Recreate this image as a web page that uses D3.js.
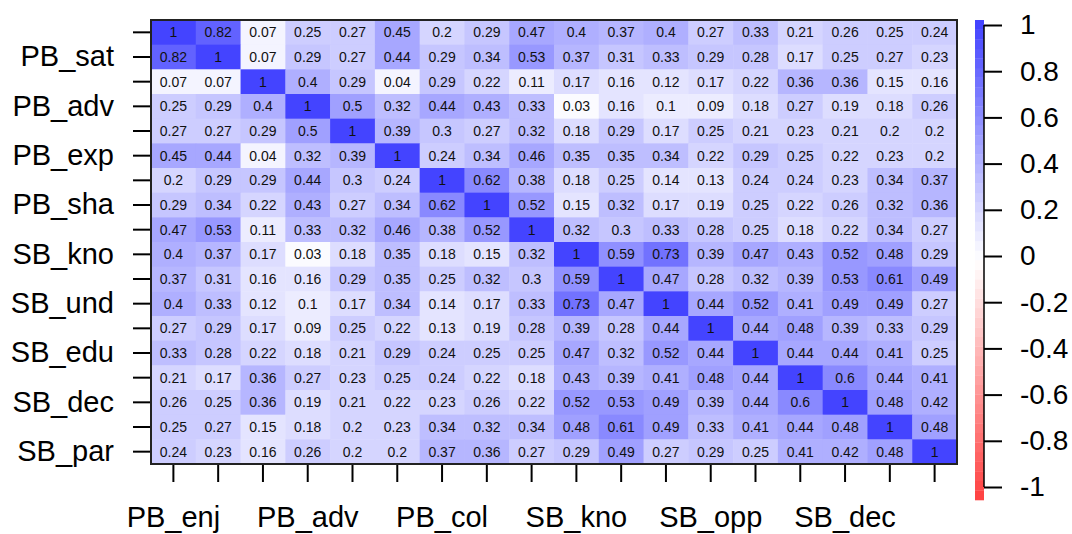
<!DOCTYPE html>
<html>
<head>
<meta charset="utf-8">
<script src="https://cdn.jsdelivr.net/npm/d3@7"></script>
<style>
  body { margin: 0; background: #fff; }
  svg { font-family: "Liberation Sans", Arial, sans-serif; }
</style>
</head>
<body>
<svg id="chart" width="1072" height="534"></svg>
<script>
// variables (only some of the names fit on the axes)
var vars = ["PB_enj", "PB_sat", "PB_rec", "PB_adv", "PB_net", "PB_exp", "PB_col", "PB_sha", "PB_sup",
            "SB_kno", "SB_ski", "SB_und", "SB_opp", "SB_edu", "SB_inf", "SB_dec", "SB_rel", "SB_par"];
var xLabelsShown = ["PB_enj", "PB_adv", "PB_col", "SB_kno", "SB_opp", "SB_dec"];
var yLabelsShown = ["PB_sat", "PB_adv", "PB_exp", "PB_sha", "SB_kno", "SB_und", "SB_edu", "SB_dec", "SB_par"];
var legendTicks = [1, 0.8, 0.6, 0.4, 0.2, 0, -0.2, -0.4, -0.6, -0.8, -1];

var r01 = [1, 0.82, 0.07, 0.25, 0.27, 0.45, 0.2, 0.29, 0.47, 0.4, 0.37, 0.4, 0.27, 0.33, 0.21, 0.26, 0.25, 0.24];
var r02 = [0.82, 1, 0.07, 0.29, 0.27, 0.44, 0.29, 0.34, 0.53, 0.37, 0.31, 0.33, 0.29, 0.28, 0.17, 0.25, 0.27, 0.23];
var r03 = [0.07, 0.07, 1, 0.4, 0.29, 0.04, 0.29, 0.22, 0.11, 0.17, 0.16, 0.12, 0.17, 0.22, 0.36, 0.36, 0.15, 0.16];
var r04 = [0.25, 0.29, 0.4, 1, 0.5, 0.32, 0.44, 0.43, 0.33, 0.03, 0.16, 0.1, 0.09, 0.18, 0.27, 0.19, 0.18, 0.26];
var r05 = [0.27, 0.27, 0.29, 0.5, 1, 0.39, 0.3, 0.27, 0.32, 0.18, 0.29, 0.17, 0.25, 0.21, 0.23, 0.21, 0.2, 0.2];
var r06 = [0.45, 0.44, 0.04, 0.32, 0.39, 1, 0.24, 0.34, 0.46, 0.35, 0.35, 0.34, 0.22, 0.29, 0.25, 0.22, 0.23, 0.2];
var r07 = [0.2, 0.29, 0.29, 0.44, 0.3, 0.24, 1, 0.62, 0.38, 0.18, 0.25, 0.14, 0.13, 0.24, 0.24, 0.23, 0.34, 0.37];
var r08 = [0.29, 0.34, 0.22, 0.43, 0.27, 0.34, 0.62, 1, 0.52, 0.15, 0.32, 0.17, 0.19, 0.25, 0.22, 0.26, 0.32, 0.36];
var r09 = [0.47, 0.53, 0.11, 0.33, 0.32, 0.46, 0.38, 0.52, 1, 0.32, 0.3, 0.33, 0.28, 0.25, 0.18, 0.22, 0.34, 0.27];
var r10 = [0.4, 0.37, 0.17, 0.03, 0.18, 0.35, 0.18, 0.15, 0.32, 1, 0.59, 0.73, 0.39, 0.47, 0.43, 0.52, 0.48, 0.29];
var r11 = [0.37, 0.31, 0.16, 0.16, 0.29, 0.35, 0.25, 0.32, 0.3, 0.59, 1, 0.47, 0.28, 0.32, 0.39, 0.53, 0.61, 0.49];
var r12 = [0.4, 0.33, 0.12, 0.1, 0.17, 0.34, 0.14, 0.17, 0.33, 0.73, 0.47, 1, 0.44, 0.52, 0.41, 0.49, 0.49, 0.27];
var r13 = [0.27, 0.29, 0.17, 0.09, 0.25, 0.22, 0.13, 0.19, 0.28, 0.39, 0.28, 0.44, 1, 0.44, 0.48, 0.39, 0.33, 0.29];
var r14 = [0.33, 0.28, 0.22, 0.18, 0.21, 0.29, 0.24, 0.25, 0.25, 0.47, 0.32, 0.52, 0.44, 1, 0.44, 0.44, 0.41, 0.25];
var r15 = [0.21, 0.17, 0.36, 0.27, 0.23, 0.25, 0.24, 0.22, 0.18, 0.43, 0.39, 0.41, 0.48, 0.44, 1, 0.6, 0.44, 0.41];
var r16 = [0.26, 0.25, 0.36, 0.19, 0.21, 0.22, 0.23, 0.26, 0.22, 0.52, 0.53, 0.49, 0.39, 0.44, 0.6, 1, 0.48, 0.42];
var r17 = [0.25, 0.27, 0.15, 0.18, 0.2, 0.23, 0.34, 0.32, 0.34, 0.48, 0.61, 0.49, 0.33, 0.41, 0.44, 0.48, 1, 0.48];
var r18 = [0.24, 0.23, 0.16, 0.26, 0.2, 0.2, 0.37, 0.36, 0.27, 0.29, 0.49, 0.27, 0.29, 0.25, 0.41, 0.42, 0.48, 1];

var rows = [r01, r02, r03, r04, r05, r06, r07, r08, r09, r10, r11, r12, r13, r14, r15, r16, r17, r18];

function renderMyChart() {
    var svg = d3.select("#chart"),
        margin = { top: 20, right: 115, bottom: 70, left: 151 },
        width = +svg.attr("width") - margin.left - margin.right,
        height = +svg.attr("height") - margin.top - margin.bottom;

    var x = d3.scaleBand().domain(vars).range([0, width]),
        y = d3.scaleBand().domain(vars).range([0, height]);

    // binned red - white - blue ramp like R's colorRampPalette
    var nBins = 50;
    var ramp = d3.scaleLinear().domain([-1, 0, 1])
        .range(["rgb(255,64,64)", "#ffffff", "rgb(64,64,255)"]);
    function color(v) {
        var b = Math.min(nBins - 1, Math.floor((v + 1) / 2 * nBins));
        return ramp(-1 + (b + 0.5) * 2 / nBins);
    }

    var cells = [];
    rows.forEach(function (r, i) {
        r.forEach(function (v, j) {
            cells.push({ row: vars[i], col: vars[j], value: v });
        });
    });

    var g = svg.append("g")
        .attr("transform", "translate(" + margin.left + "," + margin.top + ")");

    g.selectAll(".cell")
        .data(cells)
        .enter().append("rect")
        .attr("class", "cell")
        .attr("x", function (d) { return x(d.col); })
        .attr("y", function (d) { return y(d.row); })
        .attr("width", x.bandwidth() + 0.5)
        .attr("height", y.bandwidth() + 0.5)
        .attr("fill", function (d) { return color(d.value); });

    g.selectAll(".val")
        .data(cells)
        .enter().append("text")
        .attr("class", "val")
        .attr("x", function (d) { return x(d.col) + x.bandwidth() / 2; })
        .attr("y", function (d) { return y(d.row) + y.bandwidth() / 2; })
        .attr("dy", "0.36em")
        .attr("text-anchor", "middle")
        .attr("font-size", 14)
        .attr("fill", "#111")
        .text(function (d) { return d.value; });

    g.append("rect")
        .attr("width", width)
        .attr("height", height)
        .attr("fill", "none")
        .attr("stroke", "#222")
        .attr("stroke-width", 2);

    // axes, only the names R had room for
    var xAxis = g.append("g")
        .attr("transform", "translate(0," + (height + 1) + ")")
        .call(d3.axisBottom(x).tickSize(17).tickPadding(24)
            .tickFormat(function (d) { return xLabelsShown.indexOf(d) >= 0 ? d : ""; }));
    var yAxis = g.append("g")
        .attr("transform", "translate(-1,0)")
        .call(d3.axisLeft(y).tickSize(17).tickPadding(19)
            .tickFormat(function (d) { return yLabelsShown.indexOf(d) >= 0 ? d : ""; }));
    [xAxis, yAxis].forEach(function (a) {
        a.select(".domain").remove();
        a.selectAll("line").attr("stroke", "#000").attr("stroke-width", 2);
        a.selectAll("text").attr("font-size", 29).attr("fill", "#000")
            .attr("font-family", "Liberation Sans, Arial, sans-serif");
    });

    // colour legend
    var ly = d3.scaleLinear().domain([-1, 1]).range([487, 25]);
    var leg = svg.append("g");
    var steps = d3.range(nBins).map(function (b) { return -1 + b * 2 / nBins; });
    var barTop = 20, barBottom = 500, barH = (barBottom - barTop) / nBins;
    leg.selectAll("rect")
        .data(steps)
        .enter().append("rect")
        .attr("x", 975)
        .attr("y", function (d, i) { return barBottom - (i + 1) * barH; })
        .attr("width", 9)
        .attr("height", barH + 0.3)
        .attr("fill", function (d) { return color(d + 1 / nBins); });

    var la = leg.append("g")
        .attr("transform", "translate(984,0)")
        .call(d3.axisRight(ly).tickValues(legendTicks).tickSize(18).tickPadding(18)
            .tickFormat(function (d) { return String(d).replace("\u2212", "-"); }));
    la.select(".domain").attr("stroke", "#000").attr("stroke-width", 1.5)
        .attr("d", "M0," + ly(-1) + "V" + ly(1));
    la.selectAll("line").attr("stroke", "#000").attr("stroke-width", 2);
    la.selectAll("text").attr("font-size", 28).attr("fill", "#000")
        .attr("font-family", "Liberation Sans, Arial, sans-serif");
}

renderMyChart();
</script>
</body>
</html>
